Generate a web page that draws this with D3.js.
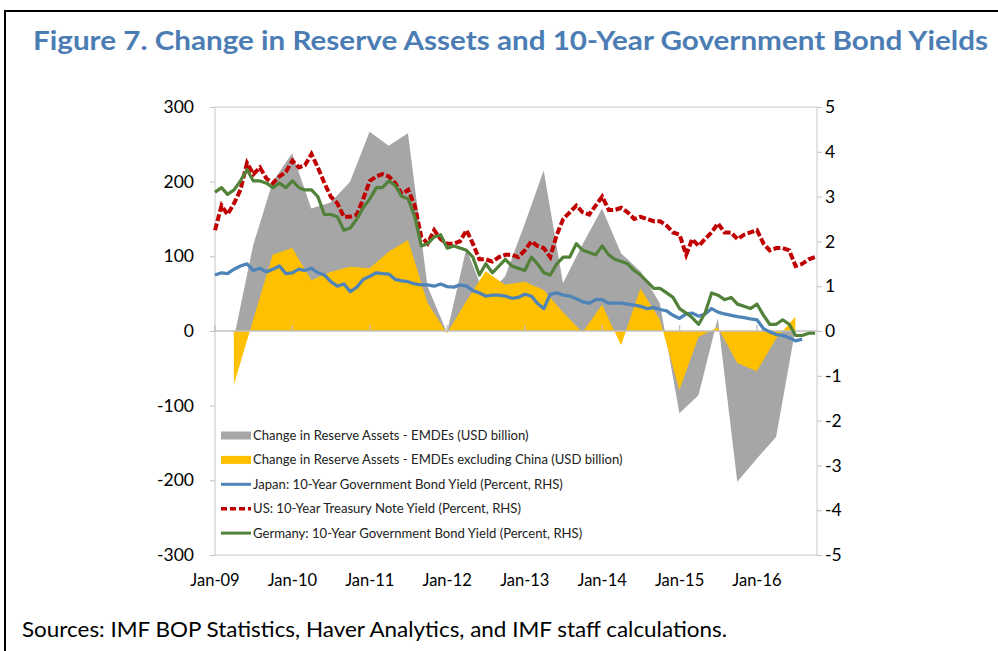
<!DOCTYPE html>
<html>
<head>
<meta charset="utf-8">
<script src="https://cdn.jsdelivr.net/npm/d3@7"></script>
<style>
  body { margin: 0; background: #fff; }
  svg { display: block; }
  text { font-family: Lato, "Open Sans", sans-serif; }
</style>
</head>
<body>
<div id="chart"></div>
<script>
// quarterly reserve changes (USD billion)
var quarters = ["2009Q1","2009Q2","2009Q3","2009Q4","2010Q1","2010Q2","2010Q3","2010Q4",
  "2011Q1","2011Q2","2011Q3","2011Q4","2012Q1","2012Q2","2012Q3","2012Q4",
  "2013Q1","2013Q2","2013Q3","2013Q4","2014Q1","2014Q2","2014Q3","2014Q4",
  "2015Q1","2015Q2","2015Q3","2015Q4","2016Q1","2016Q2"];
var emdes = [-10, 115, 200, 238, 164, 172, 200, 267, 248, 265, 60, -2, 110, 45, 73, 143,
  215, 64, 116, 164, 104, 80, 37, -110, -86, 17, -202, -171, -142, 2];
var emdesExChina = [-72, 15, 102, 111, 68, 79, 86, 84, 106, 122, 38, -3, 40, 80, 62, 66,
  55, 25, -2, 35, -19, 57, 15, -79, -8, 5, -43, -54, -10, 19];

// monthly 10-year yields (percent), from Jan 2009
var japan = [1.25, 1.3, 1.28, 1.38, 1.45, 1.5, 1.35, 1.4, 1.32, 1.38, 1.45, 1.28,
  1.3, 1.38, 1.35, 1.4, 1.3, 1.25, 1.1, 1.0, 1.05, 0.88, 0.98, 1.15,
  1.22, 1.3, 1.28, 1.27, 1.15, 1.12, 1.1, 1.05, 1.03, 1.03, 1.0, 1.05,
  0.99, 0.98, 1.03, 1.0, 0.9, 0.85, 0.78, 0.8, 0.8, 0.78, 0.73, 0.75,
  0.82, 0.78, 0.62, 0.5, 0.82, 0.85, 0.8, 0.78, 0.72, 0.65, 0.62, 0.7,
  0.7, 0.62, 0.62, 0.62, 0.6, 0.58, 0.55, 0.5, 0.52, 0.48, 0.45, 0.35,
  0.28, 0.38, 0.4, 0.33, 0.38, 0.5, 0.42, 0.38, 0.35, 0.32, 0.3, 0.27,
  0.25, 0.05, -0.02, -0.08, -0.1, -0.15, -0.22, -0.18];
var us = [2.25, 2.8, 2.6, 2.85, 3.15, 3.75, 3.5, 3.65, 3.4, 3.3, 3.45, 3.55,
  3.8, 3.65, 3.7, 3.95, 3.65, 3.3, 3.0, 2.85, 2.55, 2.55, 2.6, 2.95,
  3.35, 3.45, 3.5, 3.45, 3.3, 3.05, 3.15, 2.8, 2.1, 1.95, 2.25, 2.05,
  1.95, 1.95, 2.0, 2.25, 1.95, 1.6, 1.6, 1.55, 1.65, 1.7, 1.7, 1.65,
  1.8, 2.0, 1.9, 1.85, 1.65, 2.15, 2.5, 2.65, 2.8, 2.65, 2.6, 2.8,
  3.0, 2.7, 2.7, 2.75, 2.65, 2.5, 2.55, 2.5, 2.45, 2.45, 2.35, 2.2,
  2.15, 1.7, 2.05, 1.9, 2.05, 2.2, 2.4, 2.2, 2.2, 2.05, 2.15, 2.2,
  2.25, 1.95, 1.8, 1.85, 1.85, 1.8, 1.45, 1.5, 1.6, 1.65];
var germany = [3.1, 3.2, 3.05, 3.15, 3.35, 3.6, 3.35, 3.35, 3.3, 3.2, 3.3, 3.2,
  3.35, 3.2, 3.15, 3.15, 3.0, 2.6, 2.6, 2.55, 2.25, 2.3, 2.5, 2.75,
  2.95, 3.2, 3.2, 3.35, 3.25, 3.0, 2.95, 2.55, 1.9, 1.95, 2.1, 2.15,
  1.85, 1.9, 1.85, 1.8, 1.65, 1.25, 1.5, 1.3, 1.45, 1.6, 1.45, 1.4,
  1.35, 1.65, 1.5, 1.3, 1.25, 1.5, 1.65, 1.65, 1.95, 1.8, 1.75, 1.7,
  1.9, 1.7, 1.6, 1.55, 1.5, 1.35, 1.25, 1.1, 0.95, 0.95, 0.85, 0.75,
  0.5, 0.4, 0.3, 0.15, 0.4, 0.85, 0.8, 0.7, 0.75, 0.6, 0.55, 0.5,
  0.6, 0.35, 0.15, 0.15, 0.25, 0.15, -0.1, -0.1, -0.05, -0.05];

var leftTicks = [300, 200, 100, 0, -100, -200, -300];
var rightTicks = [5, 4, 3, 2, 1, 0, -1, -2, -3, -4, -5];
var xTickLabels = ["Jan-09", "Jan-10", "Jan-11", "Jan-12", "Jan-13", "Jan-14", "Jan-15", "Jan-16"];

var W = 998, H = 651;
var plot = { left: 215, right: 817, top: 107, bottom: 555 };

var svg = d3.select("#chart").append("svg")
  .attr("width", W).attr("height", H);

// outer frame of the figure
svg.append("rect")
  .attr("x", 5).attr("y", 11).attr("width", 1010).attr("height", 700)
  .attr("fill", "none").attr("stroke", "#000").attr("stroke-width", 2);

svg.append("text")
  .attr("x", 33).attr("y", 50)
  .attr("textLength", 955).attr("lengthAdjust", "spacingAndGlyphs")
  .style("font-size", "26px").style("font-weight", "bold")
  .attr("fill", "#4b7db4")
  .text("Figure 7. Change in Reserve Assets and 10-Year Government Bond Yields");

var parseQ = function (q) {
  var yr = +q.slice(0, 4), n = +q.slice(5);
  return new Date(yr, n * 3, 0); // last day of quarter
};
var parseX = d3.timeParse("%b-%y");
var start = new Date(2009, 0, 1);

var x = d3.scaleTime()
  .domain([start, new Date(2016, 9, 10)])
  .range([plot.left, plot.right]);
var yL = d3.scaleLinear().domain([-300, 300]).range([plot.bottom, plot.top]);
var yR = d3.scaleLinear().domain([-5, 5]).range([plot.bottom, plot.top]);

var qData = function (arr) {
  return arr.map(function (v, i) { return { date: parseQ(quarters[i]), v: v }; });
};
var mData = function (arr) {
  return arr.map(function (v, i) { return { date: d3.timeMonth.offset(start, i), v: v }; });
};

var area = d3.area()
  .x(function (d) { return x(d.date); })
  .y0(yL(0))
  .y1(function (d) { return yL(d.v); });

svg.append("path").datum(qData(emdes))
  .attr("d", area).attr("fill", "#a6a6a6");
svg.append("path").datum(qData(emdesExChina))
  .attr("d", area).attr("fill", "#ffc000");

// plot border
svg.append("rect")
  .attr("x", plot.left).attr("y", plot.top)
  .attr("width", plot.right - plot.left).attr("height", plot.bottom - plot.top)
  .attr("fill", "none").attr("stroke", "#c8c8c8");

// zero line with small upward ticks
svg.append("line")
  .attr("x1", plot.left).attr("x2", plot.right)
  .attr("y1", yL(0)).attr("y2", yL(0))
  .attr("stroke", "#c0c0c0").attr("stroke-width", 1.3);
svg.selectAll(".xtick").data(xTickLabels).enter().append("line")
  .attr("x1", function (d) { return x(parseX(d)); })
  .attr("x2", function (d) { return x(parseX(d)); })
  .attr("y1", yL(0) - 6).attr("y2", yL(0))
  .attr("stroke", "#c0c0c0").attr("stroke-width", 1.3);

// plain hyphen for negatives, like the original
var plain = function (d) { return String(d); };

var axL = svg.append("g")
  .attr("transform", "translate(" + plot.left + ",0)")
  .call(d3.axisLeft(yL).tickValues(leftTicks).tickSize(5).tickPadding(16).tickFormat(plain));
var axR = svg.append("g")
  .attr("transform", "translate(" + plot.right + ",0)")
  .call(d3.axisRight(yR).tickValues(rightTicks).tickSize(5).tickPadding(3).tickFormat(plain));
[axL, axR].forEach(function (ax) {
  ax.select(".domain").remove();
  ax.selectAll(".tick line").attr("stroke", "#c0c0c0");
  ax.selectAll("text").style("font-size", "17.5px").attr("fill", "#000")
    .style("font-family", "Lato, 'Open Sans', sans-serif");
});

// x labels at the bottom
svg.selectAll(".xlab").data(xTickLabels).enter().append("text")
  .attr("x", function (d) { return x(parseX(d)); })
  .attr("y", 586)
  .attr("text-anchor", "middle")
  .style("font-size", "16.5px")
  .text(function (d) { return d; });

var line = d3.line()
  .x(function (d) { return x(d.date); })
  .y(function (d) { return yR(d.v); });

svg.append("path").datum(mData(japan))
  .attr("d", line).attr("fill", "none")
  .attr("stroke", "#4e84b8").attr("stroke-width", 3.3).attr("stroke-linejoin", "round");
svg.append("path").datum(mData(us))
  .attr("d", line).attr("fill", "none")
  .attr("stroke", "#c00000").attr("stroke-width", 4)
  .attr("stroke-dasharray", "7,2.5");
svg.append("path").datum(mData(germany))
  .attr("d", line).attr("fill", "none")
  .attr("stroke", "#52813a").attr("stroke-width", 3.2).attr("stroke-linejoin", "round");

// legend
var legend = [
  { label: "Change in Reserve Assets - EMDEs (USD billion)", type: "rect", color: "#a6a6a6" },
  { label: "Change in Reserve Assets - EMDEs excluding China (USD billion)", type: "rect", color: "#ffc000" },
  { label: "Japan: 10-Year Government Bond Yield (Percent, RHS)", type: "line", color: "#4e84b8" },
  { label: "US: 10-Year Treasury Note Yield (Percent, RHS)", type: "dash", color: "#c00000" },
  { label: "Germany: 10-Year Government Bond Yield (Percent, RHS)", type: "line", color: "#52813a" }
];
var lg = svg.selectAll(".lg").data(legend).enter().append("g")
  .attr("transform", function (d, i) { return "translate(221," + (435.5 + i * 24.4) + ")"; });
lg.filter(function (d) { return d.type === "rect"; }).append("rect")
  .attr("x", 0).attr("y", -4).attr("width", 30).attr("height", 8)
  .attr("fill", function (d) { return d.color; });
lg.filter(function (d) { return d.type !== "rect"; }).append("line")
  .attr("x1", 0).attr("x2", 30).attr("y1", 0).attr("y2", 0)
  .attr("stroke", function (d) { return d.color; })
  .attr("stroke-width", function (d) { return d.type === "dash" ? 3.5 : 3; })
  .attr("stroke-dasharray", function (d) { return d.type === "dash" ? "6,3" : null; });
lg.append("text")
  .attr("x", 32).attr("y", 4.5)
  .style("font-size", "13.1px")
  .attr("fill", "#222")
  .text(function (d) { return d.label; });

svg.append("text")
  .attr("x", 22).attr("y", 637)
  .attr("textLength", 705).attr("lengthAdjust", "spacingAndGlyphs")
  .style("font-size", "20.5px")
  .text("Sources: IMF BOP Statistics, Haver Analytics, and IMF staff calculations.");
</script>
</body>
</html>
